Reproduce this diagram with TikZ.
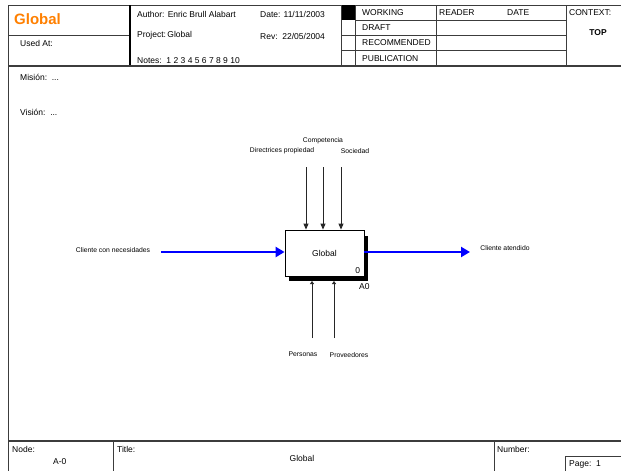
\documentclass[tikz,border=0pt]{standalone}
\usepackage{fontspec}
\setmainfont{Liberation Sans}
\usetikzlibrary{arrows.meta}
\definecolor{orng}{RGB}{255,128,0}
\definecolor{frm}{RGB}{60,60,60}
\begin{document}
\begin{tikzpicture}[x=1pt,y=-1pt,
 txt/.style={inner sep=0pt,font=\fontsize{8.5}{10}\selectfont,anchor=west},
 lbl/.style={inner sep=0pt,font=\fontsize{6.8}{8}\selectfont},
 frame/.style={draw=frm,line width=0.8pt},
 heavy/.style={draw=frm,line width=1.6pt},
 ctl/.style={draw=black!85,line width=0.9pt,-{Triangle[length=6pt,width=5pt]}},
 flow/.style={draw=blue,line width=2.4pt,-{Triangle[length=9pt,width=10pt]}},
 actbox/.style={draw=black,line width=0.8pt,fill=white,minimum width=79pt,minimum height=46pt,inner sep=0pt,font=\fontsize{8.5}{10}\selectfont},
]
\useasboundingbox (0,0) rectangle (621,471);
\fill[white] (0,0) rectangle (621,471);
% ---- header frame
\draw[frame] (8,5) -- (621,5);
\draw[frame] (8,5) -- (8,471);
\draw[heavy] (8,66) -- (621,66);
\draw[frame] (8,35) -- (130,35);
\draw[line width=1.2pt] (130,5) -- (130,65);
\fill (341,5) rectangle (355,20);
\draw[frame] (341,5) -- (341,66) (355,5) -- (355,66) (436,5) -- (436,66) (566,5) -- (566,66);
\draw[frame] (355,20) -- (566,20) (341,35) -- (566,35) (341,50) -- (566,50);
% ---- header texts
\node[txt,font=\fontsize{15}{17}\selectfont\bfseries,text=orng] (ttl) at (14,19) {Global};
\node[txt] (used) at (20,43) {Used At:};
\node[txt] (auth) at (137,14) {Author: Enric Brull Alabart};
\node[txt] (date) at (260,14) {Date: 11/11/2003};
\node[txt] (proj) at (137,35) {Project:\,Global};
\node[txt] (rev) at (260,36) {Rev:\ \ 22/05/2004};
\node[txt] (notes) at (137,61) {Notes:\ \ 1 2 3 4 5 6 7 8 9 10};
\node[txt] (wrk) at (362,13) {WORKING};
\node[txt] (drf) at (362,28) {DRAFT};
\node[txt] (rec) at (362,43) {RECOMMENDED};
\node[txt] (pub) at (362,59) {PUBLICATION};
\node[txt] (rdr) at (439,13) {READER};
\node[txt] (dte) at (507,13) {DATE};
\node[txt] (ctx) at (569,13) {CONTEXT:};
\node[txt,anchor=center,font=\fontsize{8.5}{10}\selectfont\bfseries] (top) at (598,33) {TOP};
% ---- mission / vision
\node[txt] (mis) at (20,77) {Misión:\ \ ...};
\node[txt] (vis) at (20,112) {Visión:\ \ ...};
% ---- activity box
\fill[black] (289,236) rectangle (368,281);
\node[actbox] (g) at (324.5,253) {Global};
\node[inner sep=0pt,font=\fontsize{8.5}{10}\selectfont,anchor=south east] (zero) at ([shift={(-4,-3)}]g.south east) {0};
\node[txt] (a0) at (359,287) {A0};
% ---- controls
\coordinate (c1) at (306,167);
\coordinate (c2) at (323,167);
\coordinate (c3) at (341,167);
\draw[ctl] (c1) -- (c1 |- g.north);
\draw[ctl] (c2) -- (c2 |- g.north);
\draw[ctl] (c3) -- (c3 |- g.north);
\node[lbl] (lc2) at (323,141) {Competencia};
\node[lbl] (lc1) at (282,151) {Directrices propiedad};
\node[lbl] (lc3) at (355,151) {Sociedad};
% ---- mechanisms
\coordinate (m1) at (312,338);
\coordinate (m2) at (334,338);
\coordinate (sb) at (312,281);
\draw[ctl,-{Triangle[length=3pt,width=4pt]}] (m1) -- (m1 |- sb);
\draw[ctl,-{Triangle[length=3pt,width=4pt]}] (m2) -- (m2 |- sb);
\node[lbl] (lm1) at (303,354) {Personas};
\node[lbl] (lm2) at (349,355) {Proveedores};
% ---- input / output
\coordinate (in) at (161,252);
\coordinate (out) at (470,252);
\draw[flow] (in) -- (in -| g.west);
\draw[flow] (g.east |- out) -- (out);
\node[lbl] (lin) at (113,250) {Cliente con necesidades};
\node[lbl] (lout) at (505,248) {Cliente atendido};
% ---- footer
\draw[heavy] (8,441) -- (621,441);
\draw[frame] (113,441) -- (113,471) (494,441) -- (494,471);
\draw[frame] (565,471) -- (565,456) -- (621,456);
\node[txt] (nd) at (12,449) {Node:};
\node[txt] (a0b) at (53,462) {A-0};
\node[txt] (tt) at (117,449) {Title:};
\node[txt,anchor=center] (tg) at (302,458) {Global};
\node[txt] (nb) at (497,449) {Number:};
\node[txt] (pg) at (569,464) {Page:\ \ 1};
\end{tikzpicture}
\end{document}
